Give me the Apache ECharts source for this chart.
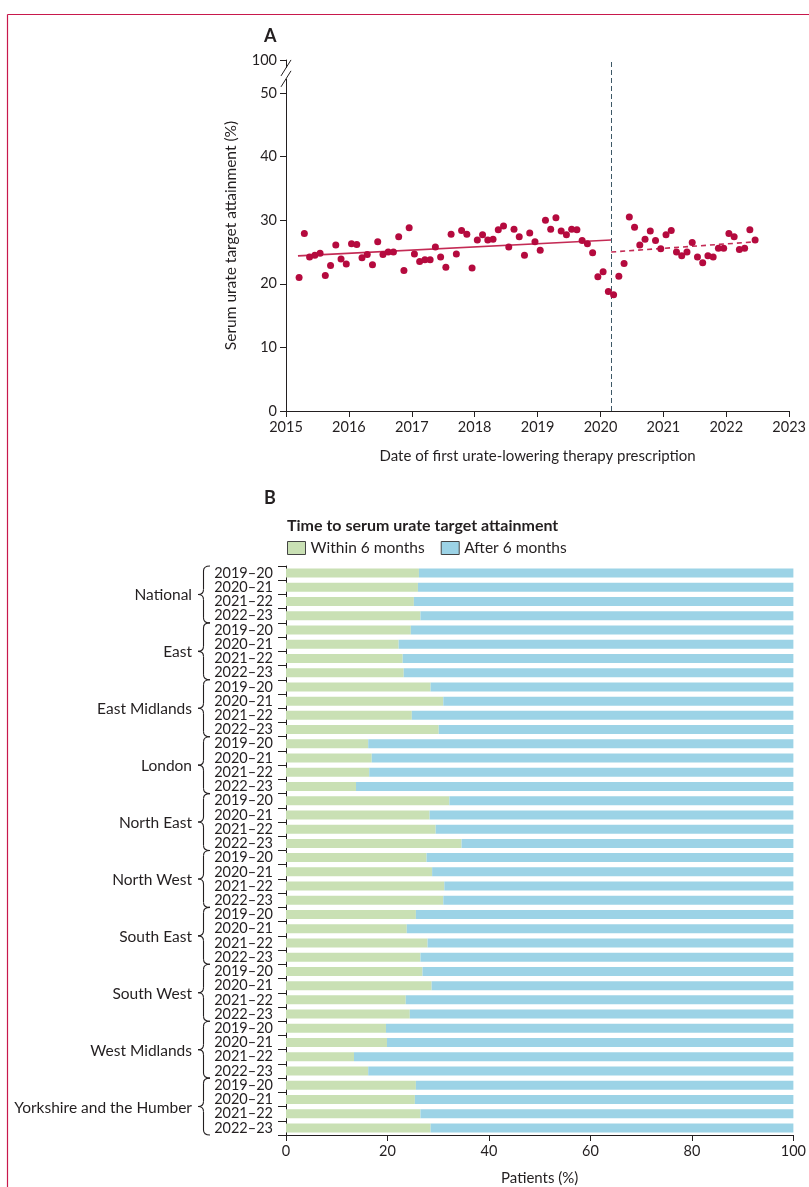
<!DOCTYPE html>
<html><head><meta charset="utf-8">
<script src="https://cdn.jsdelivr.net/npm/echarts@6/dist/echarts.min.js"></script>
<style>html,body{margin:0;padding:0;background:#fff}#c{width:809px;height:1187px}</style>
</head><body><div id="c"></div>
<script>
// ---------- Panel A data ----------
const startYear = 2015, startMonth = 3; // first monthly point: March 2015
const attainment = [
  21.0, 27.9, 24.2, 24.5, 24.8, 21.3, 22.9, 26.1, 23.9, 23.1,
  26.3, 26.2, 24.1, 24.6, 23.0, 26.6, 24.6, 25.0, 25.0, 27.4,
  22.1, 28.8, 24.7, 23.5, 23.8, 23.8, 25.8, 24.2, 22.6, 27.8,
  24.7, 28.4, 27.8, 22.5, 26.9, 27.7, 26.9, 27.0, 28.5, 29.1,
  25.8, 28.6, 27.4, 24.5, 28.0, 26.6, 25.3, 30.0, 28.6, 30.4,
  28.3, 27.7, 28.6, 28.5, 26.8, 26.3, 24.9, 21.1, 21.9, 18.8,
  18.3, 21.2, 23.2, 30.5, 28.9, 26.1, 27.0, 28.3, 26.8, 25.5,
  27.7, 28.4, 25.0, 24.4, 25.0, 26.5, 24.2, 23.3, 24.4, 24.2,
  25.6, 25.6, 27.9, 27.4, 25.4, 25.6, 28.5, 26.9
];
const breakDate = 2020.17;
const preTrend = [[2015.19, 24.4], [2020.17, 26.9]];
const postTrend = [[2020.17, 25.0], [2022.46, 26.6]];
const yTickValues = [0, 10, 20, 30, 40, 50];
const yTopValue = 55.2;   // position standing for 100 above the axis break
const yTopLabel = '100';

// ---------- Panel B data ----------
const regions = ['National', 'East', 'East Midlands', 'London', 'North East', 'North West',
  'South East', 'South West', 'West Midlands', 'Yorkshire and the Humber'];
const periods = ['2019–20', '2020–21', '2021–22', '2022–23'];
const within = [
  26.2, 26.0, 25.2, 26.5,
  24.6, 22.2, 23.0, 23.2,
  28.5, 31.0, 24.8, 30.1,
  16.2, 16.9, 16.4, 13.8,
  32.2, 28.3, 29.5, 34.6,
  27.7, 28.8, 31.2, 31.0,
  25.6, 23.8, 27.9, 26.5,
  26.9, 28.7, 23.6, 24.4,
  19.7, 19.9, 13.4, 16.2,
  25.6, 25.4, 26.5, 28.5
];
const after = [
  73.8, 74.0, 74.8, 73.5,
  75.4, 77.8, 77.0, 76.8,
  71.5, 69.0, 75.2, 69.9,
  83.8, 83.1, 83.6, 86.2,
  67.8, 71.7, 70.5, 65.4,
  72.3, 71.2, 68.8, 69.0,
  74.4, 76.2, 72.1, 73.5,
  73.1, 71.3, 76.4, 75.6,
  80.3, 80.1, 86.6, 83.8,
  74.4, 74.6, 73.5, 71.5
];

const FONT = 'Lato';
const INK = '#231f20';
const RED = '#b50a3e';
const cats = [];
regions.forEach(r => periods.forEach(p => cats.push(r + '|' + p)));
const points = attainment.map((v, i) => [startYear + (startMonth - 1 + i + 0.5) / 12, v]);

const chart = echarts.init(document.getElementById('c'), null, {renderer: 'canvas'});
const option = {
  backgroundColor: '#fff',
  animation: false,
  textStyle: {fontFamily: FONT, color: INK},
  title: [
    {text: 'A', left: 259, top: 22, textStyle: {fontFamily: FONT, fontSize: 18, fontWeight: 'bold', color: INK}},
    {text: 'B', left: 259, top: 484, textStyle: {fontFamily: FONT, fontSize: 18, fontWeight: 'bold', color: INK}},
    {text: 'Time to serum urate target attainment', left: 282, top: 513,
     textStyle: {fontFamily: FONT, fontSize: 16, fontWeight: 'bold', color: INK}}
  ],
  legend: {
    left: 282, top: 535, itemWidth: 18, itemHeight: 13, itemGap: 16,
    icon: 'rect',
    itemStyle: {borderColor: '#444', borderWidth: 1},
    textStyle: {fontFamily: FONT, fontSize: 15.5, color: INK},
    data: ['Within 6 months', 'After 6 months']
  },
  grid: [
    {left: 286, right: 18, top: 60, height: 351, containLabel: false},
    {left: 286, right: 11, top: 566, height: 571, containLabel: false}
  ],
  xAxis: [
    {gridIndex: 0, type: 'value', min: 2015, max: 2023, interval: 1,
     axisLine: {lineStyle: {color: INK, width: 1}},
     axisTick: {length: 6, lineStyle: {color: INK}},
     axisLabel: {fontFamily: FONT, fontSize: 14.5, color: INK, margin: 9, formatter: v => String(v)},
     splitLine: {show: false},
     name: 'Date of first urate-lowering therapy prescription', nameLocation: 'middle', nameGap: 38,
     nameTextStyle: {fontFamily: FONT, fontSize: 15, color: INK}},
    {gridIndex: 1, type: 'value', min: 0, max: 100, interval: 20,
     axisLine: {show: true, lineStyle: {color: INK, width: 1}},
     axisTick: {show: true, length: 6, lineStyle: {color: INK}},
     axisLabel: {fontFamily: FONT, fontSize: 14.5, color: INK, margin: 9},
     splitLine: {show: false},
     name: 'Patients (%)', nameLocation: 'middle', nameGap: 36,
     nameTextStyle: {fontFamily: FONT, fontSize: 15, color: INK}}
  ],
  yAxis: [
    {gridIndex: 0, type: 'value', min: 0, max: yTopValue,
     axisLine: {show: true, lineStyle: {color: INK, width: 1}},
     axisTick: {show: true, length: 6, customValues: yTickValues.concat([yTopValue]), lineStyle: {color: INK}},
     axisLabel: {fontFamily: FONT, fontSize: 14.5, color: INK, margin: 9,
       customValues: yTickValues.concat([yTopValue]),
       formatter: v => (v > 51 ? yTopLabel : String(v))},
     splitLine: {show: false},
     name: 'Serum urate target attainment (%)', nameLocation: 'middle', nameGap: 47, nameRotate: 90,
     nameTextStyle: {fontFamily: FONT, fontSize: 15.5, color: INK}},
    {gridIndex: 1, type: 'category', data: cats, inverse: true,
     axisLine: {show: true, lineStyle: {color: INK, width: 1}},
     axisTick: {show: true, length: 8, alignWithLabel: false, interval: 0, lineStyle: {color: INK}},
     axisLabel: {fontFamily: FONT, fontSize: 14.5, color: INK, margin: 13, interval: 0,
       formatter: v => v.split('|')[1]},
     splitLine: {show: false}}
  ],
  series: [
    {type: 'scatter', name: 'monthly', xAxisIndex: 0, yAxisIndex: 0, data: points,
     symbolSize: 7, itemStyle: {color: RED, opacity: 1}, z: 5,
     markLine: {silent: true, symbol: 'none', label: {show: false},
       lineStyle: {color: '#3d5866', type: [5, 3], width: 1},
       data: [{xAxis: breakDate}]}},
    {type: 'line', name: 'pre', xAxisIndex: 0, yAxisIndex: 0, data: preTrend, showSymbol: false,
     lineStyle: {color: '#c42b55', width: 1.6}, z: 4},
    {type: 'line', name: 'post', xAxisIndex: 0, yAxisIndex: 0, data: postTrend, showSymbol: false,
     lineStyle: {color: '#c42b55', width: 1.6, type: [5, 4]}, z: 4},
    {type: 'bar', name: 'Within 6 months', xAxisIndex: 1, yAxisIndex: 1, stack: 'b', data: within,
     barWidth: 9, itemStyle: {color: '#c9e0b4'}},
    {type: 'bar', name: 'After 6 months', xAxisIndex: 1, yAxisIndex: 1, stack: 'b', data: after,
     barWidth: 9, itemStyle: {color: '#9cd3e6'}}
  ]
};
chart.setOption(option);

// ---------- decorations computed from the axes ----------
const g = [];
// figure frame (top & left rules)
g.push({type: 'line', shape: {x1: 7.5, y1: 14.5, x2: 809, y2: 14.5}, style: {stroke: '#c8184c', lineWidth: 1.2}, z: 100});
g.push({type: 'line', shape: {x1: 7.5, y1: 14.5, x2: 7.5, y2: 1187}, style: {stroke: '#c8184c', lineWidth: 1.2}, z: 100});
// axis break on y axis of panel A
const ax = chart.convertToPixel({xAxisIndex: 0}, 2015);
const pTop = chart.convertToPixel({yAxisIndex: 0}, yTopValue);
const p50 = chart.convertToPixel({yAxisIndex: 0}, 50);
const s1 = pTop + (p50 - pTop) * 0.24, s2 = pTop + (p50 - pTop) * 0.57;
g.push({type: 'rect', shape: {x: ax - 3, y: s1, width: 6, height: s2 - s1}, style: {fill: '#fff'}, z: 100});
[s1, s2].forEach(s => g.push({type: 'line', shape: {x1: ax - 5, y1: s + 8, x2: ax + 5, y2: s - 8},
  style: {stroke: INK, lineWidth: 1}, z: 101}));
// braces and region names for panel B
const c0 = chart.convertToPixel({yAxisIndex: 1}, cats[0]);
const c1 = chart.convertToPixel({yAxisIndex: 1}, cats[1]);
const band = c1 - c0;
const braceStyle = {stroke: INK, fill: 'none', lineWidth: 1.1};
regions.forEach((r, gi) => {
  const yt = chart.convertToPixel({yAxisIndex: 1}, cats[gi * 4]) - band / 2;
  const yb = chart.convertToPixel({yAxisIndex: 1}, cats[gi * 4 + 3]) + band / 2;
  const ym = (yt + yb) / 2;
  const xr = 210, xm = 203.5, xt = 198, rr = 5;
  const segs = [
    {type: 'bezierCurve', shape: {x1: xr, y1: yt, x2: xm, y2: yt + rr, cpx1: xm, cpy1: yt}},
    {type: 'line', shape: {x1: xm, y1: yt + rr, x2: xm, y2: ym - rr}},
    {type: 'bezierCurve', shape: {x1: xm, y1: ym - rr, x2: xt, y2: ym, cpx1: xm, cpy1: ym}},
    {type: 'bezierCurve', shape: {x1: xt, y1: ym, x2: xm, y2: ym + rr, cpx1: xm, cpy1: ym}},
    {type: 'line', shape: {x1: xm, y1: ym + rr, x2: xm, y2: yb - rr}},
    {type: 'bezierCurve', shape: {x1: xm, y1: yb - rr, x2: xr, y2: yb, cpx1: xm, cpy1: yb}}
  ];
  segs.forEach(s => { s.style = braceStyle; s.z = 100; g.push(s); });
  g.push({type: 'text', x: 192, y: ym + 1, z: 100,
    style: {text: r, fill: INK, fontSize: 15.5, fontFamily: FONT, align: 'right', verticalAlign: 'middle'}});
});
chart.setOption({graphic: g});
</script>
</body></html>
